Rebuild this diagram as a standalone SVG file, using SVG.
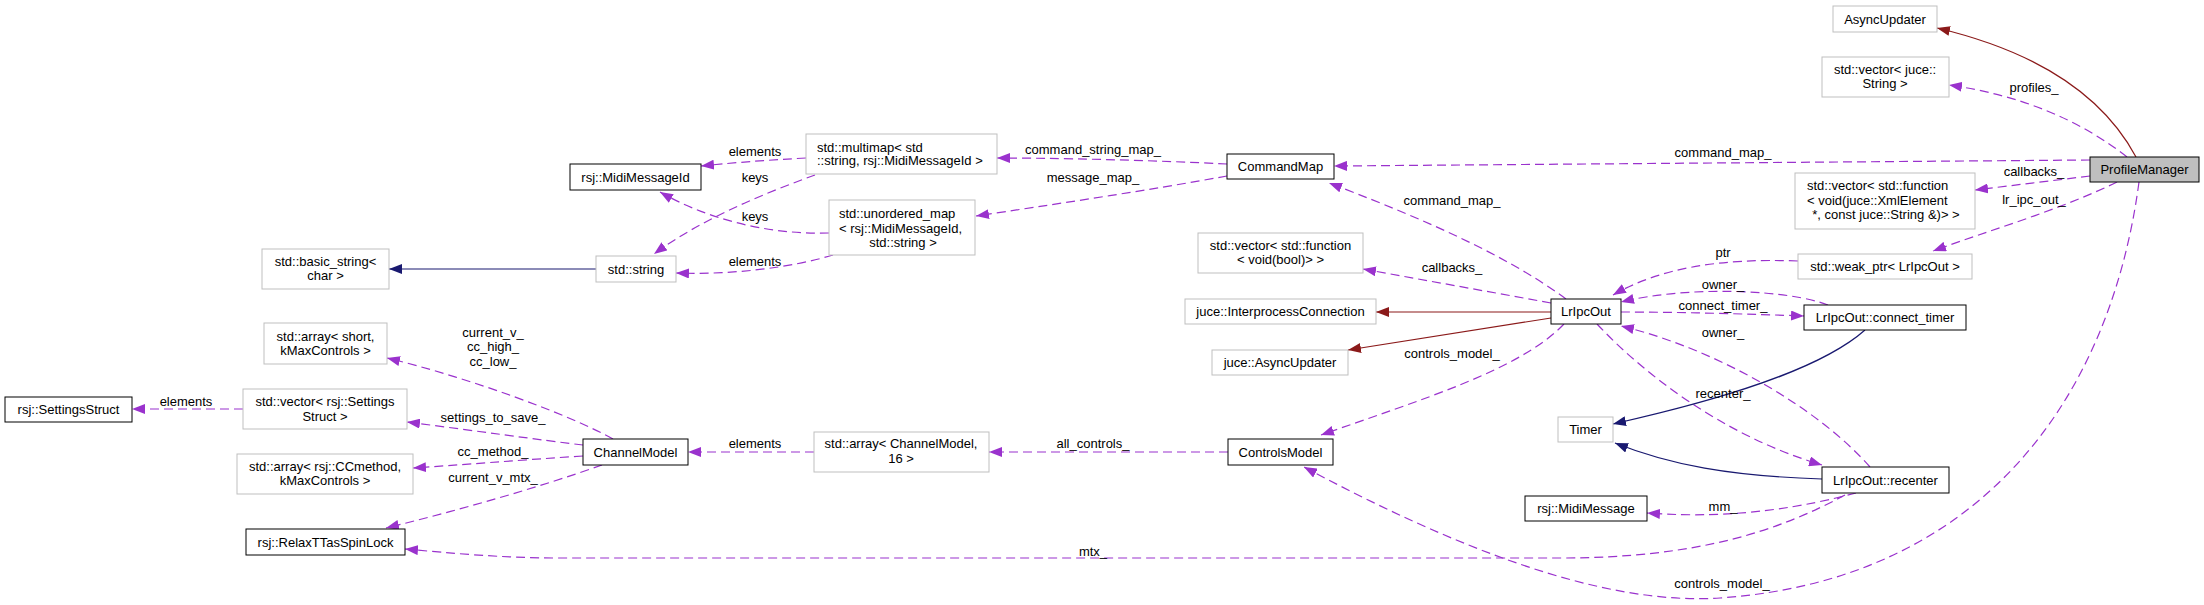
<svg xmlns="http://www.w3.org/2000/svg" width="2204" height="605" viewBox="0 0 2204 605">
<style>
text{font-family:"Liberation Sans",Arial,sans-serif;font-size:13px;fill:#000}
.c{text-anchor:middle}
.s{text-anchor:start}
.doc{fill:#fff;stroke:#000;stroke-width:1}
.und{fill:#fff;stroke:#bfbfbf;stroke-width:1}
.cur{fill:#bfbfbf;stroke:#000;stroke-width:1}
.u{fill:none;stroke:#9a32cd;stroke-width:1.2;stroke-dasharray:9,5;marker-end:url(#ap)}
.i{fill:none;stroke:#191970;stroke-width:1.2;marker-end:url(#an)}
.r{fill:none;stroke:#8b1a1a;stroke-width:1.2;marker-end:url(#ar)}
</style>
<defs>
<marker id="ap" viewBox="0 0 13 10" refX="13" refY="5" markerWidth="13" markerHeight="10" markerUnits="userSpaceOnUse" orient="auto"><path d="M0,0 L13,5 L0,10 z" fill="#9a32cd"/></marker>
<marker id="an" viewBox="0 0 13 10" refX="13" refY="5" markerWidth="13" markerHeight="10" markerUnits="userSpaceOnUse" orient="auto"><path d="M0,0 L13,5 L0,10 z" fill="#191970"/></marker>
<marker id="ar" viewBox="0 0 13 10" refX="13" refY="5" markerWidth="13" markerHeight="10" markerUnits="userSpaceOnUse" orient="auto"><path d="M0,0 L13,5 L0,10 z" fill="#8b1a1a"/></marker>
</defs>
<rect width="2204" height="605" fill="#fff"/>
<g id="connectors">
<path class="u" d="M243,409 L132,409"/>
<path class="u" d="M613,439 C570,415 470,378 387,358"/>
<path class="u" d="M583,445 C540,440 470,430 407,422"/>
<path class="u" d="M583,456 C520,460 460,465 413,468"/>
<path class="u" d="M602,465 C540,487 460,510 386,528"/>
<path class="u" d="M806,158 C770,160 740,162 701,166"/>
<path class="u" d="M815,175 C760,195 700,220 654,254"/>
<path class="u" d="M829,233 C760,235 700,215 660,192"/>
<path class="u" d="M833,255 C790,268 730,275 676,273"/>
<path class="u" d="M814,452 L688,452"/>
<path class="u" d="M1227,164 C1150,160 1050,158 997,158"/>
<path class="u" d="M1227,176 C1150,190 1050,205 976,216"/>
<path class="u" d="M1228,452 L989,452"/>
<path class="u" d="M1845,495 C1780,530 1700,558 1560,558 L560,558 C500,558 450,553 405,549"/>
<path class="u" d="M1566,299 C1500,250 1400,210 1329,183"/>
<path class="u" d="M1551,303 L1363,269"/>
<path class="u" d="M1564,324 C1520,370 1420,400 1321,435"/>
<path class="u" d="M1798,261 C1720,258 1660,268 1613,295"/>
<path class="u" d="M1828,305 C1790,290 1690,285 1621,302"/>
<path class="u" d="M1621,312 C1680,312 1750,314 1804,316"/>
<path class="u" d="M1870,467 C1820,410 1720,350 1621,326"/>
<path class="u" d="M1597,324 C1640,370 1720,435 1822,465"/>
<path class="u" d="M1856,493 C1810,505 1740,520 1647,513"/>
<path class="u" d="M2127,157 C2080,120 2020,95 1949,85"/>
<path class="u" d="M2090,160 L1334,166"/>
<path class="u" d="M2090,176 L1975,190"/>
<path class="u" d="M2117,182 C2060,210 1990,230 1933,251"/>
<path class="u" d="M2139,182 C2110,400 1980,580 1720,598 C1600,606 1450,545 1304,467"/>
<path class="i" d="M596,269 L389,269"/>
<path class="i" d="M1865,330 C1820,370 1720,400 1613,424"/>
<path class="i" d="M1822,479 C1730,476 1670,465 1615,443"/>
<path class="r" d="M1551,312 L1376,312"/>
<path class="r" d="M1551,318 L1348,350"/>
<path class="r" d="M2136,157 C2100,90 2030,50 1937,28"/>
<g id="edge-labels">
<text class="c" x="186" y="405.5">elements</text>
<text class="c" x="493" y="336.5">current_v_</text>
<text class="c" x="493" y="351">cc_high_</text>
<text class="c" x="493" y="365.5">cc_low_</text>
<text class="c" x="493" y="421.5">settings_to_save_</text>
<text class="c" x="493" y="455.5">cc_method_</text>
<text class="c" x="493" y="481.5">current_v_mtx_</text>
<text class="c" x="755" y="155.5">elements</text>
<text class="c" x="755" y="181.5">keys</text>
<text class="c" x="755" y="220.5">keys</text>
<text class="c" x="755" y="265.5">elements</text>
<text class="c" x="755" y="447.5">elements</text>
<text class="c" x="1093" y="153.5">command_string_map_</text>
<text class="c" x="1093" y="181.5">message_map_</text>
<text class="c" x="1093" y="447.5">all_controls_</text>
<text class="c" x="1093" y="555.5">mtx_</text>
<text class="c" x="1452" y="204.5">command_map_</text>
<text class="c" x="1452" y="271.5">callbacks_</text>
<text class="c" x="1452" y="357.5">controls_model_</text>
<text class="c" x="1723" y="256.5">ptr</text>
<text class="c" x="1723" y="288.5">owner_</text>
<text class="c" x="1723" y="309.5">connect_timer_</text>
<text class="c" x="1723" y="336.5">owner_</text>
<text class="c" x="1723" y="397.5">recenter_</text>
<text class="c" x="1723" y="510.5">mm_</text>
<text class="c" x="1723" y="156.5">command_map_</text>
<text class="c" x="1722" y="587.5">controls_model_</text>
<text class="c" x="2034" y="91.5">profiles_</text>
<text class="c" x="2034" y="175.5">callbacks_</text>
<text class="c" x="2034" y="203.5">lr_ipc_out_</text>
</g>
</g>
<g id="ProfileManager"><rect class="cur" x="2090" y="157" width="109" height="25"/><text class="c" x="2144.5" y="174">ProfileManager</text></g>
<g id="AsyncUpdater"><rect class="und" x="1833" y="6" width="104" height="26"/><text class="c" x="1885" y="23.5">AsyncUpdater</text></g>
<g id="vector_juce_String"><rect class="und" x="1822" y="57" width="127" height="40"/><text class="c" x="1885" y="73.5">std::vector&lt; juce::</text><text class="c" x="1885" y="87.5">String &gt;</text></g>
<g id="CommandMap"><rect class="doc" x="1227" y="154" width="107" height="25"/><text class="c" x="1280.5" y="171">CommandMap</text></g>
<g id="vector_function_xml"><rect class="und" x="1795" y="173" width="180" height="56"/><text class="s" x="1807" y="189.5">std::vector&lt; std::function</text><text class="s" x="1807" y="204.5">&lt; void(juce::XmlElement</text><text class="c" x="1886" y="218.5"> *, const juce::String &amp;)&gt; &gt;</text></g>
<g id="weak_ptr"><rect class="und" x="1798" y="254" width="174" height="25"/><text class="c" x="1885" y="271">std::weak_ptr&lt; LrIpcOut &gt;</text></g>
<g id="LrIpcOut"><rect class="doc" x="1551" y="299" width="70" height="25"/><text class="c" x="1586" y="316">LrIpcOut</text></g>
<g id="connect_timer"><rect class="doc" x="1804" y="305" width="162" height="25"/><text class="c" x="1885" y="322">LrIpcOut::connect_timer</text></g>
<g id="recenter"><rect class="doc" x="1822" y="467" width="127" height="26"/><text class="c" x="1885.5" y="484.5">LrIpcOut::recenter</text></g>
<g id="Timer"><rect class="und" x="1558" y="417" width="55" height="25"/><text class="c" x="1585.5" y="434">Timer</text></g>
<g id="MidiMessage"><rect class="doc" x="1525" y="496" width="122" height="25"/><text class="c" x="1586" y="513">rsj::MidiMessage</text></g>
<g id="ControlsModel"><rect class="doc" x="1228" y="439" width="105" height="26"/><text class="c" x="1280.5" y="456.5">ControlsModel</text></g>
<g id="vector_function_bool"><rect class="und" x="1198" y="233" width="165" height="40"/><text class="c" x="1280.5" y="249.5">std::vector&lt; std::function</text><text class="c" x="1280.5" y="263.5">&lt; void(bool)&gt; &gt;</text></g>
<g id="InterprocessConnection"><rect class="und" x="1185" y="299" width="191" height="25"/><text class="c" x="1280.5" y="316">juce::InterprocessConnection</text></g>
<g id="juce_AsyncUpdater"><rect class="und" x="1212" y="350" width="136" height="25"/><text class="c" x="1280" y="367">juce::AsyncUpdater</text></g>
<g id="multimap"><rect class="und" x="806" y="134" width="191" height="40"/><text class="s" x="817" y="151.5">std::multimap&lt; std</text><text class="s" x="817" y="164.5">::string, rsj::MidiMessageId &gt;</text></g>
<g id="unordered_map"><rect class="und" x="829" y="200" width="146" height="55"/><text class="s" x="839" y="217.5">std::unordered_map</text><text class="s" x="839" y="232.5">&lt; rsj::MidiMessageId,</text><text class="c" x="903" y="246.5">std::string &gt;</text></g>
<g id="array_ChannelModel"><rect class="und" x="814" y="432" width="175" height="40"/><text class="c" x="901" y="447.5">std::array&lt; ChannelModel,</text><text class="c" x="901" y="462.5">16 &gt;</text></g>
<g id="MidiMessageId"><rect class="doc" x="570" y="164" width="131" height="26"/><text class="c" x="635.5" y="181.5">rsj::MidiMessageId</text></g>
<g id="std_string"><rect class="und" x="596" y="256" width="80" height="26"/><text class="c" x="636" y="273.5">std::string</text></g>
<g id="ChannelModel"><rect class="doc" x="583" y="439" width="105" height="26"/><text class="c" x="635.5" y="456.5">ChannelModel</text></g>
<g id="basic_string"><rect class="und" x="262" y="249" width="127" height="40"/><text class="c" x="325.5" y="265.5">std::basic_string&lt;</text><text class="c" x="325.5" y="279.5">char &gt;</text></g>
<g id="array_short"><rect class="und" x="264" y="323" width="123" height="41"/><text class="c" x="325.5" y="340.5">std::array&lt; short,</text><text class="c" x="325.5" y="354.5">kMaxControls &gt;</text></g>
<g id="vector_SettingsStruct"><rect class="und" x="243" y="389" width="164" height="40"/><text class="c" x="325" y="405.5">std::vector&lt; rsj::Settings</text><text class="c" x="325" y="420.5">Struct &gt;</text></g>
<g id="array_CCmethod"><rect class="und" x="237" y="454" width="176" height="40"/><text class="c" x="325" y="470.5">std::array&lt; rsj::CCmethod,</text><text class="c" x="325" y="484.5">kMaxControls &gt;</text></g>
<g id="RelaxTTasSpinLock"><rect class="doc" x="246" y="529" width="159" height="26"/><text class="c" x="325.5" y="546.5">rsj::RelaxTTasSpinLock</text></g>
<g id="SettingsStruct"><rect class="doc" x="5" y="397" width="127" height="25"/><text class="c" x="68.5" y="414">rsj::SettingsStruct</text></g>
</svg>
